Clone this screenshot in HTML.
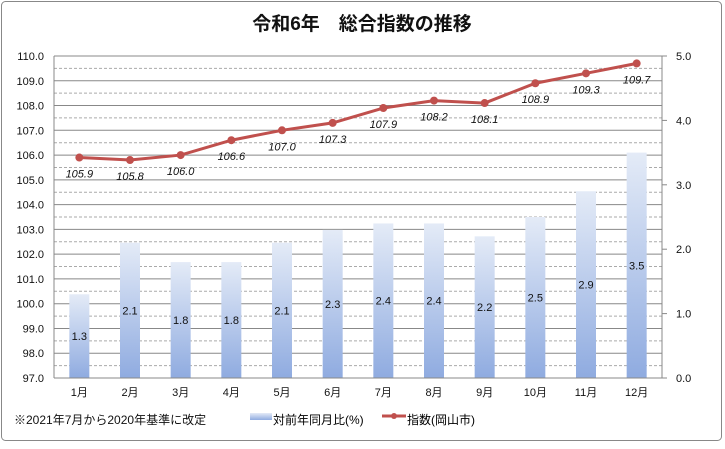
<!DOCTYPE html>
<html><head><meta charset="utf-8"><style>
body{margin:0;background:#fff;font-family:"Liberation Sans","Noto Sans CJK JP",sans-serif}
svg text{font-family:"Liberation Sans","Noto Sans CJK JP",sans-serif}
</style></head><body>
<svg width="725" height="444" viewBox="0 0 725 444">
<defs><linearGradient id="bg" x1="0" y1="0" x2="0" y2="1"><stop offset="0" stop-color="#e4ebf7"/><stop offset="1" stop-color="#8fabe0"/></linearGradient></defs>
<rect x="1.5" y="1.5" width="720" height="439" rx="4" fill="#fff" stroke="#888"/>
<text x="362" y="30" text-anchor="middle" font-size="19" font-weight="bold" fill="#111">令和6年　総合指数の推移</text>
<g id="grid"></g><g id="bars"></g><g id="line"></g><g id="axes"></g>
<text x="14" y="424" font-size="12" fill="#111">※2021年7月から2020年基準に改定</text>
<g><rect x="250" y="413" width="22" height="7" fill="url(#bg)"/><text x="273" y="424" font-size="12">対前年同月比(%)</text></g>
<g><line x1="382" y1="416" x2="406" y2="416" stroke="#c0504d" stroke-width="3"/><circle cx="394" cy="416" r="3" fill="#c0504d"/><text x="407" y="424" font-size="12">指数(岡山市)</text></g>
</svg>
<script>
const categories=["1月","2月","3月","4月","5月","6月","7月","8月","9月","10月","11月","12月"];
const indexValues=[105.9,105.8,106.0,106.6,107.0,107.3,107.9,108.2,108.1,108.9,109.3,109.7];
const yoyValues=[1.3,2.1,1.8,1.8,2.1,2.3,2.4,2.4,2.2,2.5,2.9,3.5];
const leftTicks=["97.0","98.0","99.0","100.0","101.0","102.0","103.0","104.0","105.0","106.0","107.0","108.0","109.0","110.0"];
const rightTicks=["0.0","1.0","2.0","3.0","4.0","5.0"];
const NS="http://www.w3.org/2000/svg";
const L=54,R=662,T=56,B=378;
const yL=v=>B-(v-97)/13*(B-T);
const yR=v=>B-v/5*(B-T);
const bw=(R-L)/12;
const xC=i=>L+bw*(i+0.5);
function mk(tag,attrs,parent,txt){const e=document.createElementNS(NS,tag);for(const k in attrs)e.setAttribute(k,attrs[k]);if(txt!==undefined)e.textContent=txt;document.getElementById(parent).appendChild(e);return e;}
for(let v=97;v<=110.01;v+=0.5){const y=yL(v);const ln=mk("line",{x1:L,x2:R,y1:y,y2:y,stroke:Number.isInteger(Math.round(v*2)/2)&&v%1===0?"#888":"#aaa","stroke-dasharray":v%1===0?"":"3,2","stroke-width":1},"grid");

}
leftTicks.forEach(t=>{const e=mk("text",{x:L-10,y:yL(parseFloat(t))+4,"text-anchor":"end","font-size":11,fill:"#111"},"axes",t);

});
rightTicks.forEach(t=>{const y=yR(parseFloat(t));mk("line",{x1:R,x2:R+5,y1:y,y2:y,stroke:"#888"},"axes");const e=mk("text",{x:R+14,y:y+4,"font-size":11,fill:"#111"},"axes",t);

});
mk("line",{x1:L,x2:L,y1:T,y2:B,stroke:"#888"},"axes");
mk("line",{x1:R,x2:R,y1:T,y2:B,stroke:"#888"},"axes");
mk("line",{x1:L,x2:R,y1:B,y2:B,stroke:"#888"},"axes");
categories.forEach((c,i)=>{const e=mk("text",{x:xC(i),y:B+18,"text-anchor":"middle","font-size":11,fill:"#111"},"axes",c);

});
yoyValues.forEach((v,i)=>{const y=yR(v);const r=mk("rect",{x:xC(i)-10,y:y,width:20,height:B-y,fill:"url(#bg)"},"bars");


const t=mk("text",{x:xC(i),y:(y+B)/2+4,"text-anchor":"middle","font-size":11,fill:"#111"},"bars",v.toFixed(1));

});
const pts=indexValues.map((v,i)=>xC(i)+","+yL(v)).join(" ");
const pl=mk("polyline",{points:pts,fill:"none",stroke:"#c0504d","stroke-width":3},"line");


indexValues.forEach((v,i)=>{const c=mk("circle",{cx:xC(i),cy:yL(v),r:4,fill:"#c0504d"},"line");


const t=mk("text",{x:xC(i),y:yL(v)+20,"text-anchor":"middle","font-size":11,"font-style":"italic",fill:"#111"},"line",v.toFixed(1));

});
</script>
</body></html>
